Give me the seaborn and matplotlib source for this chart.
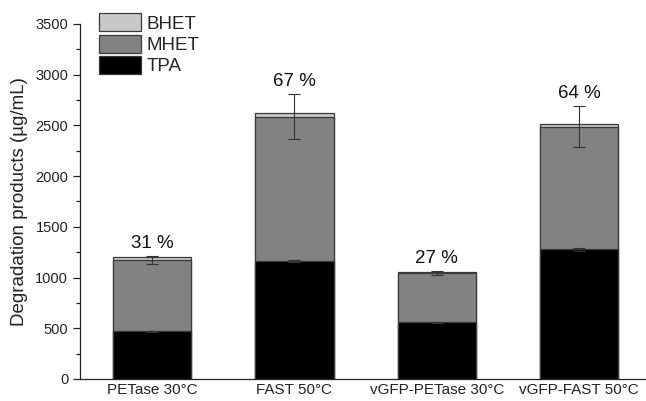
import matplotlib
matplotlib.use("Agg")
import matplotlib.pyplot as plt
from matplotlib.patches import Patch
from matplotlib.ticker import MultipleLocator
import numpy as np
import pandas as pd
import seaborn as sns

# Degradation products per enzyme / temperature (µg/mL)
categories = ["PETase 30°C", "FAST 50°C", "vGFP-PETase 30°C", "vGFP-FAST 50°C"]
tpa = [470, 1166, 559, 1281]
mhet = [703, 1422, 483, 1208]
bhet = [25, 39, 13, 23]
tpa_err = [8, 8, 6, 15]
total_err = [42, 222, 18, 198]
percent_labels = ["31 %", "67 %", "27 %", "64 %"]

sns.set_theme(style="ticks")
plt.rcParams["font.family"] = ["Liberation Sans", "DejaVu Sans"]

df = pd.DataFrame({"sample": categories, "TPA": tpa, "MHET": mhet, "BHET": bhet})
df["tpa_mhet"] = df["TPA"] + df["MHET"]
df["total"] = df["tpa_mhet"] + df["BHET"]

colors = {"BHET": "#c8c8c8", "MHET": "#828282", "TPA": "#000000"}
edge = "#3a3a3a"

fig = plt.figure(figsize=(6.46, 4.01), dpi=100)
ax = fig.add_axes([80 / 646, 22 / 401, 566 / 646, 355 / 401])

# stacked bars drawn back-to-front from cumulative heights
for col, key in [("total", "BHET"), ("tpa_mhet", "MHET"), ("TPA", "TPA")]:
    sns.barplot(data=df, x="sample", y=col, color=colors[key], width=0.55,
                edgecolor=edge, linewidth=0.9, saturation=1, ax=ax, errorbar=None)

x = np.arange(len(categories))
ax.errorbar(x, df["tpa_mhet"], yerr=total_err, fmt="none", ecolor="#333333",
            elinewidth=0.8, capsize=4, capthick=0.8, zorder=5)
ax.errorbar(x, df["TPA"], yerr=tpa_err, fmt="none", ecolor="#333333",
            elinewidth=0.8, capsize=4, capthick=0.8, zorder=5)

for xi, top, err, lab in zip(x, df["tpa_mhet"], total_err, percent_labels):
    ax.annotate(lab, (xi, top + err), xytext=(0, 3), textcoords="offset points",
                ha="center", va="bottom", fontsize=13.5, color="#111111")

ax.set_xlim(-0.506, 3.47)
ax.set_ylim(0, 3500)
ax.yaxis.set_major_locator(MultipleLocator(500))
ax.yaxis.set_minor_locator(MultipleLocator(250))
ax.tick_params(axis="y", which="major", length=5, width=0.9, labelsize=10.5, colors="#222222")
ax.tick_params(axis="y", which="minor", length=3, width=0.9, colors="#222222")
ax.tick_params(axis="x", length=0, labelsize=11, pad=3, colors="#222222")
ax.set_xlabel("")
ax.set_ylabel("Degradation products (µg/mL)", fontsize=13.5, color="#222222", labelpad=5)
for s in ["top", "right"]:
    ax.spines[s].set_visible(False)
for s in ["left", "bottom"]:
    ax.spines[s].set_linewidth(0.9)
    ax.spines[s].set_color("#222222")

handles = [Patch(facecolor=colors[k], edgecolor=edge, linewidth=0.9) for k in ["BHET", "MHET", "TPA"]]
leg = ax.legend(handles, ["BHET", "MHET", "TPA"], loc="upper left",
                bbox_to_anchor=(0.033, 1.03), frameon=False, fontsize=13.5,
                handlelength=2.25, handleheight=1.1, labelspacing=0.1,
                handletextpad=0.3, borderaxespad=0, borderpad=0)

fig.savefig("out.png", dpi=100)
